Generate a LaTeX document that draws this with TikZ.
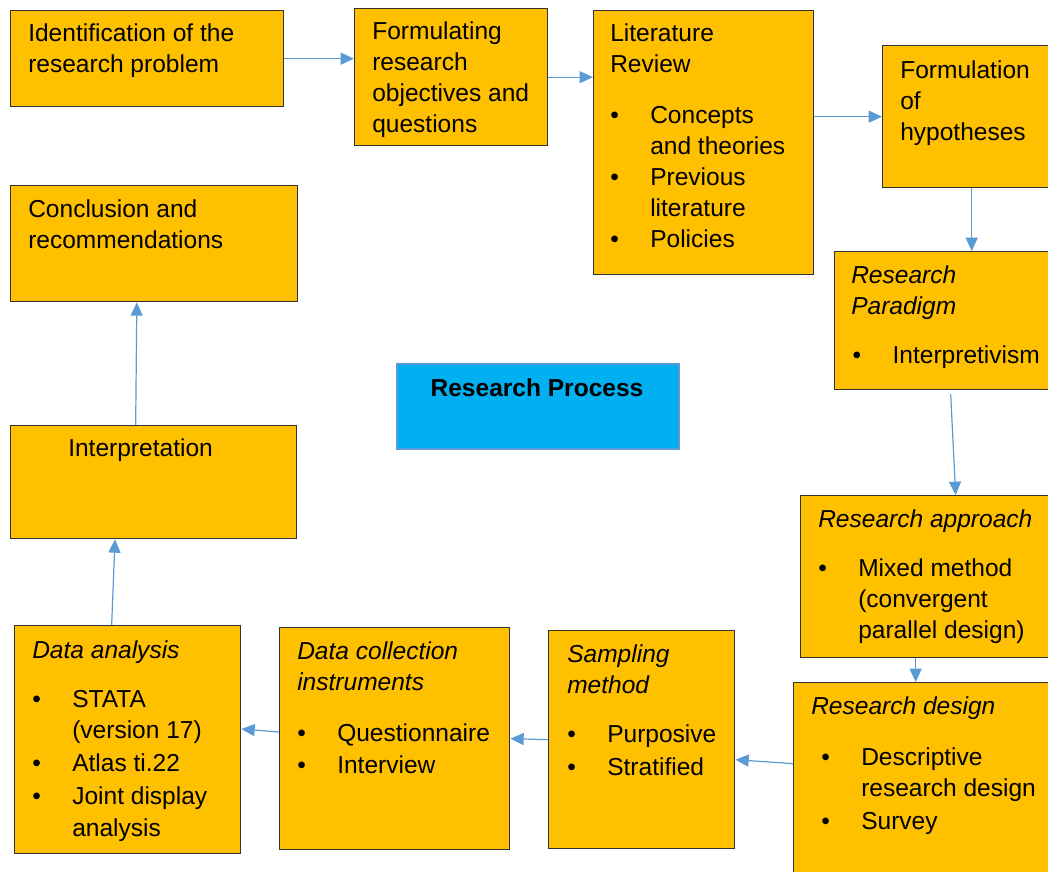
\documentclass[tikz,border=0pt]{standalone}
\usepackage{fontspec}
\setmainfont{Liberation Sans}
\usepackage{tikz}
\usetikzlibrary{arrows.meta}

\definecolor{boxfill}{HTML}{FFC000}
\definecolor{procfill}{HTML}{00B0F0}
\definecolor{arrowblue}{HTML}{5B9BD5}

\newcommand{\bul}{\makebox[30pt][l]{\textbullet}}

\tikzset{
  box/.style={draw=black!80, line width=1pt, fill=boxfill, anchor=north west, inner sep=0},
  txt/.style={anchor=north west, inner sep=0, align=left, font=\fontsize{18.4}{23.3}\selectfont},
  flow/.style={draw=arrowblue, line width=0.9pt, -{Triangle[length=10pt,width=9pt]}}
}

\begin{document}
\begin{tikzpicture}[x=0.75pt,y=-0.75pt]

\clip (0,0) rectangle (1048,871);
\fill[white] (0,0) rectangle (1048,871);

\node[box, minimum width=204.75pt, minimum height=72pt] (ident) at (10,10) {};
\node[box, minimum width=144.75pt, minimum height=102.75pt] (formr) at (354,8) {};
\node[box, minimum width=165pt, minimum height=198pt] (lit) at (593,10) {};
\node[box, minimum width=133.5pt, minimum height=106.5pt] (hyp) at (882,45) {};
\node[box, minimum width=174pt, minimum height=103.5pt] (para) at (834,251) {};
\node[box, minimum width=232.5pt, minimum height=121.5pt] (appr) at (800,495) {};
\node[box, minimum width=200.25pt, minimum height=163.5pt] (design) at (793,682) {};
\node[box, minimum width=139.5pt, minimum height=163.5pt] (samp) at (548,630) {};
\node[box, minimum width=172.5pt, minimum height=166.5pt] (dcoll) at (279,627) {};
\node[box, minimum width=169.5pt, minimum height=171pt] (dana) at (14,625) {};
\node[box, minimum width=214.5pt, minimum height=84.75pt] (interp) at (10,425) {};
\node[box, minimum width=215.25pt, minimum height=87pt] (concl) at (10,185) {};
\node[box, draw=arrowblue, line width=1.5pt, fill=procfill, minimum width=211.5pt, minimum height=63.75pt] (proc) at (396,363) {};

\node[txt] (identT) at (28,23) {Identification of the\\research problem};
\node[txt] (formrT) at (372,21) {Formulating\\research\\objectives and\\questions};
\node[txt] (litT) at (610,23) {Literature\\Review\\[15pt]\bul Concepts\\\hspace*{30pt}and theories\\\bul Previous\\\hspace*{30pt}literature\\\bul Policies};
\node[txt] (hypT) at (900,60) {Formulation\\of\\hypotheses};
\node[txt] (paraT) at (851,265) {\textit{Research}\\\textit{Paradigm}\\[14pt]\hspace*{1pt}\bul Interpretivism};
\node[txt] (apprT) at (818,509) {\textit{Research approach}\\[14pt]\bul Mixed method\\\hspace*{30pt}(convergent\\\hspace*{30pt}parallel design)};
\node[txt] (designT) at (811,696) {\textit{Research design}\\[15pt]\hspace*{7.5pt}\bul Descriptive\\\hspace*{37.5pt}research design\\[2pt]\hspace*{7.5pt}\bul Survey};
\node[txt] (sampT) at (567,644) {\textit{Sampling}\\\textit{method}\\[14pt]\bul Purposive\\[1pt]\bul Stratified};
\node[txt] (dcollT) at (297,641) {\textit{Data collection}\\\textit{instruments}\\[15pt]\bul Questionnaire\\[1pt]\bul Interview};
\node[txt] (danaT) at (32,640) {\textit{Data analysis}\\[14pt]\bul STATA\\\hspace*{30pt}(version 17)\\[1.5pt]\bul Atlas ti.22\\[1.5pt]\bul Joint display\\\hspace*{30pt}analysis};
\node[txt] (interpT) at (68,438) {Interpretation};
\node[txt] (conclT) at (28,199) {Conclusion and\\recommendations};
\node[txt, anchor=north] (procT) at (537,378) {\textbf{Research Process}};

\draw[flow] (ident.east) -- (ident.east -| formr.west);
\draw[flow] (formr.east) -- (formr.east -| lit.west);
\draw[flow] (lit.east |- hyp.west) -- (hyp.west);
\draw[flow] (hyp.south) -- (hyp.south |- para.north);
\draw[flow] ([yshift=-3pt]para.south) -- (appr.north);
\draw[flow] ([xshift=-30pt]appr.south) -- ([xshift=-30pt]appr.south |- design.north);
\draw[flow] ([yshift=21pt]design.west) -- ([yshift=-15pt]samp.east);
\draw[flow] (samp.west) -- (dcoll.east);
\draw[flow] ([yshift=5pt]dcoll.west) -- ([yshift=8pt]dana.east);
\draw[flow] ([xshift=-12pt]dana.north) -- ([xshift=-29pt]interp.south);
\draw[flow] ([xshift=-13.5pt]interp.north) -- ([xshift=-13pt]concl.south);

\end{tikzpicture}
\end{document}
